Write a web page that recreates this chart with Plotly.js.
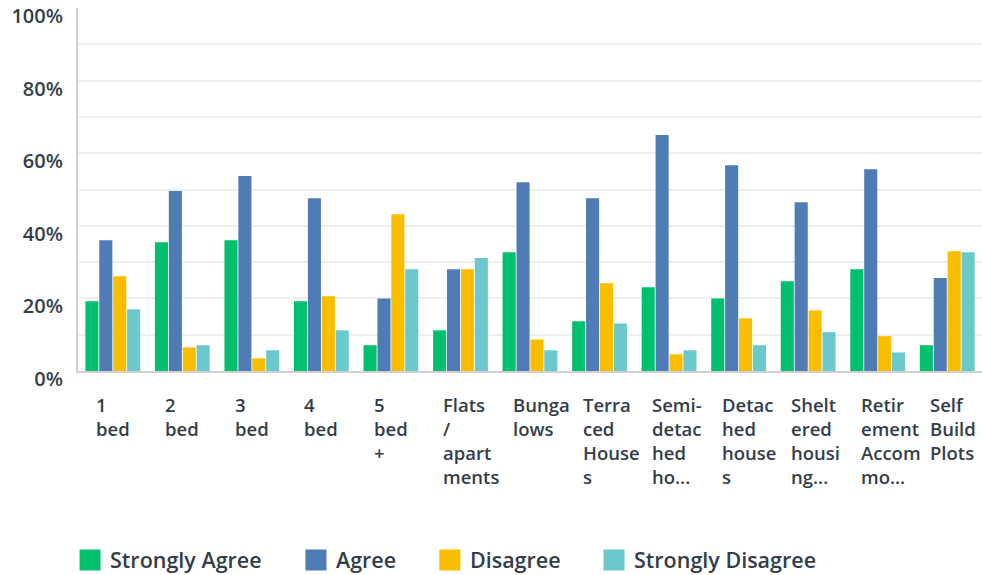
<!DOCTYPE html>
<html>
<head>
<meta charset="utf-8">
<script src="https://cdn.plot.ly/plotly-3.0.1.min.js"></script>
<style>html,body{margin:0;padding:0;background:#fff;}#chart{width:982px;height:575px;}</style>
</head>
<body>
<div id="chart"></div>
<script>
const categories = ["1 bed","2 bed","3 bed","4 bed","5 bed +","Flats / apartments","Bungalows","Terraced Houses","Semi-detached houses","Detached houses","Sheltered housing","Retirement Accommodation","Self Build Plots"];
const tickLabels = ["1<br>bed","2<br>bed","3<br>bed","4<br>bed","5<br>bed<br>+","Flats<br>/<br>apart<br>ments","Bunga<br>lows","Terra<br>ced<br>House<br>s","Semi-<br>detac<br>hed<br>ho...","Detac<br>hed<br>house<br>s","Shelt<br>ered<br>housi<br>ng...","Retir<br>ement<br>Accom<br>mo...","Self<br>Build<br>Plots"];
const seriesNames = ["Strongly Agree","Agree","Disagree","Strongly Disagree"];
const stronglyAgree = [19.2,35.5,36.0,19.2,7.1,11.2,32.7,13.7,23.1,20.0,24.7,28.0,7.1];
const agree = [36.0,49.6,53.7,47.6,20.0,28.0,52.0,47.6,65.0,56.7,46.5,55.6,25.6];
const disagree = [26.1,6.5,3.5,20.6,43.2,28.0,8.7,24.2,4.6,14.5,16.7,9.6,33.0];
const stronglyDisagree = [17.0,7.1,5.7,11.2,28.0,31.1,5.7,13.1,5.7,7.1,10.7,5.1,32.7];
const yTickVals = [0,10,20,30,40,50,60,70,80,90,100];
const yTickText = ["0%","","20%","","40%","","60%","","80%","","100%"];

const colors = ["#00bf6f","#507cb6","#f9be00","#6bc8cd"];
const seriesValues = [stronglyAgree, agree, disagree, stronglyDisagree];
const textColor = "#333e48";
const legendIds = ["legend","legend2","legend3","legend4"];
const legendX = [-0.0088, 0.2411, 0.3893, 0.5708];

const traces = [];
seriesValues.forEach((vals, i) => {
  traces.push({
    type: "bar", name: seriesNames[i], x: categories, y: vals,
    marker: {color: colors[i]}, showlegend: false,
    hovertemplate: "%{x}: %{y}%<extra>" + seriesNames[i] + "</extra>"
  });
});
seriesValues.forEach((vals, i) => {
  traces.push({
    type: "scatter", mode: "markers", name: seriesNames[i], x: [null], y: [null],
    marker: {symbol: "square", size: 16, color: colors[i], line: {color: colors[i], width: 5}},
    legend: legendIds[i], showlegend: true, hoverinfo: "skip"
  });
});

const annotations = categories.map((c, i) => ({
  xref: "x", yref: "paper", x: c, y: 0, xanchor: "left", yanchor: "top",
  xshift: -19, yshift: -19, align: "left", showarrow: false,
  text: tickLabels[i],
  font: {family: "Open Sans", size: 18.5, color: textColor, weight: 600}
}));

const layout = {
  width: 982, height: 575,
  margin: {l: 78, r: 0, t: 8, b: 204, autoexpand: false},
  paper_bgcolor: "#fff", plot_bgcolor: "#fff",
  barmode: "group", bargap: 0.2, bargroupgap: 0.06,
  xaxis: {
    type: "category", showticklabels: false, ticks: "",
    showline: true, linecolor: "#d0d0d0", linewidth: 2, showgrid: false, fixedrange: true
  },
  yaxis: {
    range: [0, 100], tickvals: yTickVals, ticktext: yTickText,
    showgrid: true, gridcolor: "#efefef", gridwidth: 2, zeroline: false,
    showline: true, linecolor: "#d0d0d0", linewidth: 2, ticks: "",
    ticklabelstandoff: 9, ticklabelshift: 8,
    tickfont: {family: "Open Sans", size: 20, color: textColor, weight: 600}, fixedrange: true
  },
  annotations: annotations,
  font: {family: "Open Sans", color: textColor}
};
legendIds.forEach((id, i) => {
  layout[id] = {
    orientation: "h", x: legendX[i], y: -0.521, xanchor: "left", yanchor: "middle",
    bgcolor: "rgba(0,0,0,0)", borderwidth: 0,
    font: {family: "Open Sans", size: 21.5, color: textColor, weight: 600}
  };
});

Plotly.newPlot("chart", traces, layout, {displayModeBar: false, staticPlot: true});
</script>
</body>
</html>
